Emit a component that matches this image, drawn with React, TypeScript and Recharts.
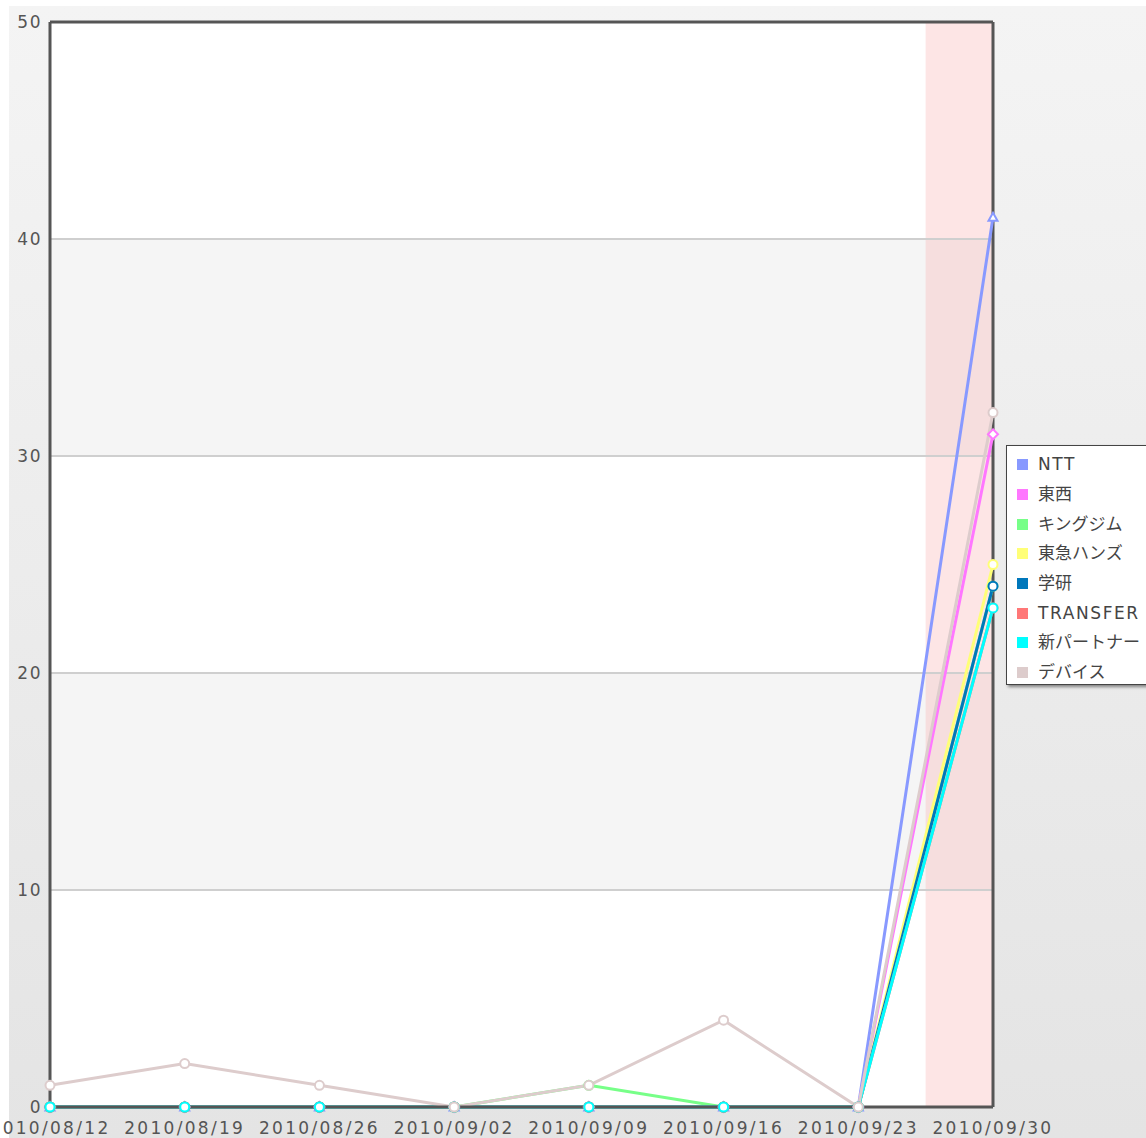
import {
  Line,
  LineChart,
  ReferenceArea,
  ReferenceLine,
  XAxis,
  YAxis,
} from 'recharts';

const dates = [
  '2010/08/12',
  '2010/08/19',
  '2010/08/26',
  '2010/09/02',
  '2010/09/09',
  '2010/09/16',
  '2010/09/23',
  '2010/09/30',
];

const ntt = [0, 0, 0, 0, 0, 0, 0, 41];
const touzai = [0, 0, 0, 0, 0, 0, 0, 31];
const kingjim = [0, 0, 0, 0, 1, 0, 0, 24];
const hands = [0, 0, 0, 0, 0, 0, 0, 25];
const gakken = [0, 0, 0, 0, 0, 0, 0, 24];
const transfer = [0, 0, 0, 0, 0, 0, 0, 23];
const partner = [0, 0, 0, 0, 0, 0, 0, 23];
const device = [1, 2, 1, 0, 1, 4, 0, 32];

const yTicks = [0, 10, 20, 30, 40, 50];
const gridLines = [10, 20, 30, 40];
const bandFills = ['#ffffff', '#f5f5f5', '#ffffff', '#f5f5f5', '#ffffff'];

type Shape = 'circle' | 'triangle' | 'diamond';

const series: { key: string; name: string; color: string; values: number[]; shape: Shape }[] = [
  { key: 'ntt', name: 'NTT', color: '#8899ff', values: ntt, shape: 'triangle' },
  { key: 'touzai', name: '東西', color: '#ff77ff', values: touzai, shape: 'diamond' },
  { key: 'kingjim', name: 'キングジム', color: '#77ff88', values: kingjim, shape: 'circle' },
  { key: 'hands', name: '東急ハンズ', color: '#ffff77', values: hands, shape: 'circle' },
  { key: 'gakken', name: '学研', color: '#0077bb', values: gakken, shape: 'circle' },
  { key: 'transfer', name: 'TRANSFER', color: '#ff7777', values: transfer, shape: 'circle' },
  { key: 'partner', name: '新パートナー', color: '#00ffff', values: partner, shape: 'circle' },
  { key: 'device', name: 'デバイス', color: '#ddcccc', values: device, shape: 'circle' },
];

const data = dates.map((d, i) => {
  const row: Record<string, number | string> = { i, date: d };
  series.forEach((s) => {
    row[s.key] = s.values[i];
  });
  return row;
});

const FONT = "'DejaVu Sans', 'Noto Sans CJK JP', sans-serif";

function makeDot(color: string, shape: Shape) {
  return (props: any) => {
    const { cx, cy, index } = props;
    if (cx == null || cy == null) return <g key={index} />;
    if (shape === 'triangle') {
      return (
        <path
          key={index}
          d={`M${cx},${cy - 4.5} L${cx + 4.5},${cy + 3.5} L${cx - 4.5},${cy + 3.5} Z`}
          fill="#fff"
          stroke={color}
          strokeWidth={2}
        />
      );
    }
    if (shape === 'diamond') {
      return (
        <path
          key={index}
          d={`M${cx},${cy - 5} L${cx + 5},${cy} L${cx},${cy + 5} L${cx - 5},${cy} Z`}
          fill="#fff"
          stroke={color}
          strokeWidth={2}
        />
      );
    }
    return <circle key={index} cx={cx} cy={cy} r={4.5} fill="#fff" stroke={color} strokeWidth={2} />;
  };
}

// legend sits over the chart's right edge, like the original flash widget
function LegendBox() {
  return (
    <div
      style={{
        position: 'absolute',
        left: 1006,
        top: 445,
        background: '#fff',
        border: '1px solid #444',
        boxShadow: '2px 2px 3px rgba(0,0,0,0.45)',
        width: 150,
        height: 240,
        boxSizing: 'border-box',
        paddingTop: 4,
        fontFamily: FONT,
        whiteSpace: 'nowrap',
      }}
    >
      {series.map((s) => (
        <div
          key={s.key}
          style={{ display: 'flex', alignItems: 'center', height: 29.7, paddingLeft: 10 }}
        >
          <span style={{ width: 11, height: 11, background: s.color, display: 'inline-block' }} />
          <span
            style={{
              marginLeft: 10,
              fontSize: 17,
              lineHeight: 1,
              color: '#444',
              letterSpacing: /^[A-Z]/.test(s.name) ? 1.6 : 0,
            }}
          >
            {s.name}
          </span>
        </div>
      ))}
    </div>
  );
}

export default function App() {
  return (
    <div style={{ position: 'absolute', left: 0, top: 0, width: 1146, height: 1138, overflow: 'hidden' }}>
      <div
        style={{
          position: 'absolute',
          left: 9,
          top: 6,
          right: 0,
          bottom: 0,
          background: 'linear-gradient(#f4f4f4, #e4e4e4)',
        }}
      />
      <div style={{ position: 'absolute', left: 0, top: 0 }}>
        <LineChart
          width={1146}
          height={1138}
          data={data}
          margin={{ top: 22, right: 153, bottom: 0, left: 0 }}
          style={{ overflow: 'visible' }}
        >
          {bandFills.map((fill, k) => (
            <ReferenceArea
              key={`band-${k}`}
              y1={yTicks[k]}
              y2={yTicks[k + 1]}
              fill={fill}
              fillOpacity={1}
              stroke="none"
            />
          ))}
          {gridLines.map((v) => (
            <ReferenceLine key={v} y={v} stroke="#cfcfcf" strokeWidth={2} />
          ))}
          <ReferenceArea x1={6.5} x2={7} fill="#fab4b4" fillOpacity={0.35} stroke="none" />
          <XAxis
            dataKey="i"
            type="number"
            domain={[0, 7]}
            ticks={dates.map((_, i) => i)}
            tickFormatter={(i: number) => dates[i] ?? ''}
            interval={0}
            height={31}
            tickLine={false}
            tickMargin={9}
            axisLine={{ stroke: '#555', strokeWidth: 3 }}
            tick={{ fill: '#555', fontSize: 17, fontFamily: FONT, letterSpacing: 2.3 }}
          />
          <YAxis
            domain={[0, 50]}
            ticks={yTicks}
            width={50}
            tickLine={false}
            axisLine={{ stroke: '#555', strokeWidth: 3 }}
            tick={{ fill: '#555', fontSize: 17, fontFamily: FONT, letterSpacing: 1.5 }}
          />
          <ReferenceLine y={50} stroke="#555" strokeWidth={3} />
          <ReferenceLine x={7} stroke="#555" strokeWidth={3} />
          {series.map((s) => (
            <Line
              key={s.key}
              type="linear"
              dataKey={s.key}
              name={s.name}
              stroke={s.color}
              strokeWidth={3}
              dot={makeDot(s.color, s.shape)}
              activeDot={false}
              isAnimationActive={false}
            />
          ))}
        </LineChart>
      </div>
      <LegendBox />
    </div>
  );
}
